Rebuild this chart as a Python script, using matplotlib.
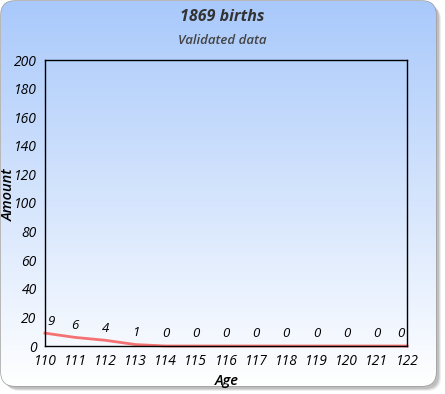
import numpy as np
import matplotlib
matplotlib.use('Agg')
import matplotlib.pyplot as plt
from matplotlib.patches import FancyBboxPatch
from matplotlib.colors import LinearSegmentedColormap

plt.rcParams['font.family'] = ['Open Sans', 'DejaVu Sans']

ages = [110, 111, 112, 113, 114, 115, 116, 117, 118, 119, 120, 121, 122]
amounts = [9, 6, 4, 1, 0, 0, 0, 0, 0, 0, 0, 0, 0]
yticks = [0, 20, 40, 60, 80, 100, 120, 140, 160, 180, 200]
title = '1869 births'
subtitle = 'Validated data'

W, H = 445, 394
fig = plt.figure(figsize=(W / 100, H / 100), dpi=100)
fig.patch.set_facecolor('white')

# background card with shadow and vertical gradient
bg = fig.add_axes([0, 0, 1, 1])
bg.set_xlim(0, W)
bg.set_ylim(H, 0)
bg.axis('off')
for off, a in [(5, 0.12), (4, 0.18), (3, 0.25)]:
    sh = FancyBboxPatch((1 + off, 1 + off), 435, 385, boxstyle='round,pad=0,rounding_size=14',
                        fc='#777777', ec='none', alpha=a, zorder=-3)
    bg.add_patch(sh)
card = FancyBboxPatch((1, 1), 435, 385, boxstyle='round,pad=0,rounding_size=14',
                      fc='white', ec='#9a9a9a', lw=1, zorder=-1)
bg.add_patch(card)
cmap = LinearSegmentedColormap.from_list('g', ['#a9c9fb', '#ffffff'])
grad = np.linspace(0, 1, 256).reshape(-1, 1)
im = bg.imshow(grad, cmap=cmap, extent=[1, 436, 386, 1], aspect='auto', zorder=0)
im.set_clip_path(card)

fig.text(0.5, 1 - 17 / H, title, ha='center', va='center', fontsize=11.5,
         fontweight='bold', style='italic', color='#333333')
fig.text(0.5, 1 - 40 / H, subtitle, ha='center', va='center', fontsize=9.5,
         fontweight='semibold', style='italic', color='#444444')

ax = fig.add_axes([45 / W, 1 - 346 / H, (407 - 45) / W, (346 - 60) / H])
ax.patch.set_alpha(0)
ax.plot(ages, amounts, color='#f47272', lw=2, solid_joinstyle='round', clip_on=False)
for i, (x, y) in enumerate(zip(ages, amounts)):
    ha = 'left' if i == 0 else ('right' if i == len(ages) - 1 else 'center')
    dx = 2 if i == 0 else (-2 if i == len(ages) - 1 else 0)
    ax.annotate(str(y), (x, y), xytext=(dx, 4), textcoords='offset points', ha=ha,
                va='bottom', fontsize=9.5, style='italic', color='black')
ax.set_xlim(110, 122)
ax.set_ylim(0, 200)
ax.set_xticks(ages)
ax.set_yticks(yticks)
ax.tick_params(length=0, pad=6, labelsize=10, labelcolor='black')
for lab in ax.get_xticklabels() + ax.get_yticklabels():
    lab.set_style('italic')
for s in ax.spines.values():
    s.set_color('black')
    s.set_linewidth(1)
ax.set_xlabel('Age', fontsize=10.5, style='italic', fontweight='semibold')
ax.set_ylabel('Amount', fontsize=10.5, style='italic', fontweight='semibold')
ax.xaxis.set_label_coords((227 - 45) / (407 - 45), -(381 - 346) / (346 - 60))
ax.yaxis.set_label_coords(-(45 - 9) / (407 - 45), (346 - 195) / (346 - 60))
ax.xaxis.label.set_va('center')
ax.yaxis.label.set_va('center')

fig.savefig('out.png', dpi=100)
